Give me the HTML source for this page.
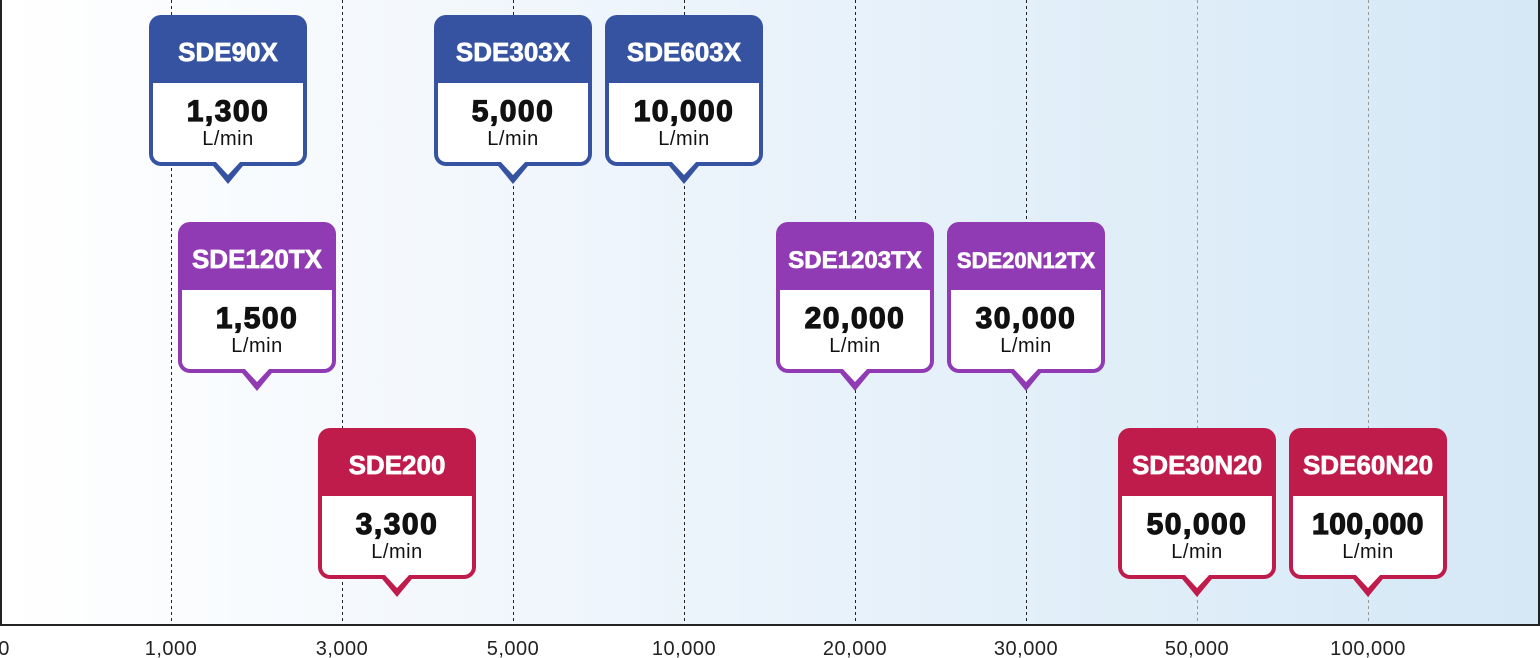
<!DOCTYPE html>
<html><head><meta charset="utf-8"><style>
html,body{margin:0;padding:0;background:#fff;}
svg{display:block;font-family:"Liberation Sans",sans-serif;}
</style></head><body>
<svg width="1540" height="658" viewBox="0 0 1540 658" xmlns="http://www.w3.org/2000/svg">
<defs>
<linearGradient id="bg" x1="0" x2="1" y1="0" y2="0">
<stop offset="0" stop-color="#ffffff"/>
<stop offset="0.35" stop-color="#f0f6fc"/>
<stop offset="1" stop-color="#d5e8f6"/>
</linearGradient>
</defs>
<rect x="0" y="0" width="1540" height="625" fill="url(#bg)"/>
<g stroke="#222" stroke-width="1" stroke-dasharray="3,3">
<line x1="171.5" y1="0" x2="171.5" y2="625"/>
<line x1="342.5" y1="0" x2="342.5" y2="625"/>
<line x1="513.5" y1="0" x2="513.5" y2="625"/>
<line x1="684.5" y1="0" x2="684.5" y2="625"/>
<line x1="855.5" y1="0" x2="855.5" y2="625"/>
<line x1="1026.5" y1="0" x2="1026.5" y2="625"/>
</g>
<g stroke="#999" stroke-width="1" stroke-dasharray="3,3">
<line x1="1197.5" y1="0" x2="1197.5" y2="625"/>
<line x1="1368.5" y1="0" x2="1368.5" y2="625"/>
</g>
<line x1="1" y1="0" x2="1" y2="626" stroke="#222" stroke-width="2"/>
<line x1="1539" y1="0" x2="1539" y2="626" stroke="#222" stroke-width="2"/>
<line x1="0" y1="625" x2="1540" y2="625" stroke="#222" stroke-width="2"/>
<g font-size="20" fill="#222" text-anchor="middle" letter-spacing="0.5">
<text x="4" y="655">0</text>
<text x="171" y="655">1,000</text>
<text x="342" y="655">3,000</text>
<text x="513" y="655">5,000</text>
<text x="684" y="655">10,000</text>
<text x="855" y="655">20,000</text>
<text x="1026" y="655">30,000</text>
<text x="1197" y="655">50,000</text>
<text x="1368" y="655">100,000</text>
</g>
<g id="boxes"></g>
</svg>
<script>
const data=[
["SDE90X","1,300",228,15,"#3553a1"],
["SDE303X","5,000",513,15,"#3553a1"],
["SDE603X","10,000",684,15,"#3553a1"],
["SDE120TX","1,500",257,222,"#903bb4"],
["SDE1203TX","20,000",855,222,"#903bb4"],
["SDE20N12TX","30,000",1026,222,"#903bb4"],
["SDE200","3,300",397,428,"#c01c4b"],
["SDE30N20","50,000",1197,428,"#c01c4b"],
["SDE60N20","100,000",1368,428,"#c01c4b"]];
let g=document.getElementById("boxes");let h="";
for(const [n,v,c,t,col] of data){const L=c-79;
const fs=n.length>=10?22:(n.length>=9?24:26);
const vls=v.length>=7?0.5:1.5;
h+=`<rect x="${L}" y="${t}" width="158" height="151" rx="12" fill="${col}"/>
<polygon points="${c-19},${t+146} ${c+19},${t+146} ${c},${t+169}" fill="${col}"/>
<rect x="${L+4}" y="${t+68}" width="150" height="79" rx="8" fill="#fff"/>
<rect x="${L+4}" y="${t+68}" width="150" height="20" fill="#fff"/>
<polygon points="${c-14},${t+145} ${c+14},${t+145} ${c},${t+160}" fill="#fff"/>
<text x="${c}" y="${t+46}" font-size="${fs}" font-weight="bold" fill="#fff" stroke="#fff" stroke-width="0.7" text-anchor="middle">${n}</text>
<text x="${c}" y="${t+106}" font-size="30" font-weight="bold" fill="#111" text-anchor="middle" stroke="#111" stroke-width="1.2" letter-spacing="${vls}">${v}</text>
<text x="${c}" y="${t+130}" font-size="20" fill="#111" text-anchor="middle" letter-spacing="0.5">L/min</text>`;}
g.innerHTML=h;
</script>
</body></html>
